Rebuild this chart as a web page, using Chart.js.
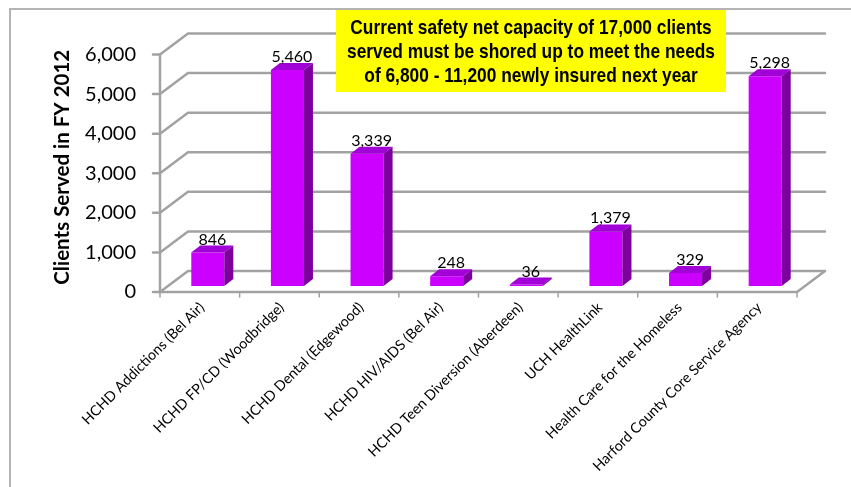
<!DOCTYPE html>
<html>
<head>
<meta charset="utf-8">
<script src="https://cdn.jsdelivr.net/npm/chart.js@4.4.1/dist/chart.umd.min.js"></script>
<style>
  html, body { margin: 0; padding: 0; background: #fff; }
  #wrap { width: 851px; height: 487px; }
</style>
</head>
<body>
<div id="wrap"><canvas id="myChart" width="851" height="487"></canvas></div>
<script>
const categories = [
  "HCHD Addictions (Bel Air)",
  "HCHD FP/CD (Woodbridge)",
  "HCHD Dental (Edgewood)",
  "HCHD HIV/AIDS (Bel Air)",
  "HCHD Teen Diversion (Aberdeen)",
  "UCH HealthLink",
  "Health Care for the Homeless",
  "Harford County Core Service Agency"
];
const clientsServed = [846, 5460, 3339, 248, 36, 1379, 329, 5298];
const yTicks = [0, 1000, 2000, 3000, 4000, 5000, 6000];
const yAxisTitle = "Clients Served in FY 2012";
const calloutLines = [
  "Current safety net capacity of 17,000 clients",
  "served must be shored up to meet the needs",
  "of 6,800 - 11,200 newly insured next year"
];

// 3d look: front floor/axis is shifted left-down, back wall right-up
const FRONT = { dx: -8, dy: 6 };
const BACK = { dx: 20, dy: -15 };
const BAR_DEPTH = { dx: 9, dy: -7 };

const fmt = v => v.toLocaleString("en-US");

const depthPlugin = {
  id: "depth3d",
  beforeDatasetsDraw(chart) {
    const ctx = chart.ctx;
    const area = chart.chartArea;
    const y = chart.scales.y;
    ctx.save();

    // outer frame
    ctx.strokeStyle = "#b4b4b4";
    ctx.lineWidth = 2;
    ctx.beginPath();
    ctx.moveTo(10, 487);
    ctx.lineTo(10, 9);
    ctx.lineTo(851, 9);
    ctx.stroke();

    ctx.strokeStyle = "#a2a2a2";
    ctx.lineWidth = 2.5;
    ctx.lineCap = "round";
    yTicks.forEach(v => {
      const py = y.getPixelForValue(v);
      ctx.beginPath();
      // back wall gridline
      ctx.moveTo(area.right + BACK.dx, py + BACK.dy);
      ctx.lineTo(area.left + BACK.dx, py + BACK.dy);
      // side wall diagonal
      ctx.lineTo(area.left + FRONT.dx, py + FRONT.dy);
      // tick mark
      ctx.lineTo(area.left + FRONT.dx - 7, py + FRONT.dy);
      ctx.stroke();
    });

    const y0 = y.getPixelForValue(0);
    const yTop = y.getPixelForValue(yTicks[yTicks.length - 1]);
    ctx.beginPath();
    // front vertical axis
    ctx.moveTo(area.left + FRONT.dx, yTop + FRONT.dy);
    ctx.lineTo(area.left + FRONT.dx, y0 + FRONT.dy);
    // front floor edge
    ctx.lineTo(area.right + FRONT.dx, y0 + FRONT.dy);
    // right floor edge
    ctx.lineTo(area.right + BACK.dx, y0 + BACK.dy);
    ctx.stroke();

    // category tick marks on the front floor edge
    const step = (area.right - area.left) / categories.length;
    ctx.lineWidth = 1.5;
    for (let i = 0; i <= categories.length; i++) {
      const px = area.left + i * step + FRONT.dx;
      ctx.beginPath();
      ctx.moveTo(px, y0 + FRONT.dy);
      ctx.lineTo(px, y0 + FRONT.dy + 5);
      ctx.stroke();
    }
    ctx.restore();
  },
  afterDatasetsDraw(chart) {
    const ctx = chart.ctx;
    const meta = chart.getDatasetMeta(0);
    ctx.save();
    meta.data.forEach((bar, i) => {
      const half = bar.width / 2;
      const l = bar.x - half, r = bar.x + half;
      const t = bar.y, b = bar.base;
      // top face
      ctx.fillStyle = "#a100d6";
      ctx.beginPath();
      ctx.moveTo(l, t);
      ctx.lineTo(r, t);
      ctx.lineTo(r + BAR_DEPTH.dx, t + BAR_DEPTH.dy);
      ctx.lineTo(l + BAR_DEPTH.dx, t + BAR_DEPTH.dy);
      ctx.closePath();
      ctx.fill();
      // side face
      ctx.fillStyle = "#7d009e";
      ctx.beginPath();
      ctx.moveTo(r, t);
      ctx.lineTo(r + BAR_DEPTH.dx, t + BAR_DEPTH.dy);
      ctx.lineTo(r + BAR_DEPTH.dx, b + BAR_DEPTH.dy);
      ctx.lineTo(r, b);
      ctx.closePath();
      ctx.fill();
      // value label
      ctx.fillStyle = "#000";
      ctx.font = "16px Lato";
      ctx.textAlign = "center";
      ctx.textBaseline = "alphabetic";
      ctx.fillText(fmt(clientsServed[i]), bar.x + BAR_DEPTH.dx / 2, t - 8);
    });
    ctx.restore();
  },
  afterDraw(chart) {
    const ctx = chart.ctx;
    ctx.save();
    ctx.fillStyle = "#ffff00";
    ctx.fillRect(336, 10, 390, 82);
    ctx.fillStyle = "#000";
    ctx.font = "bold 21px 'Liberation Sans Narrow', 'Liberation Sans', Arial";
    ctx.textAlign = "center";
    ctx.textBaseline = "middle";
    const sx = 368 / ctx.measureText(calloutLines[1]).width;
    const lineY = [28, 52, 76];
    calloutLines.forEach((line, i) => {
      ctx.save();
      ctx.translate(531, lineY[i]);
      ctx.scale(sx, 1);
      ctx.fillText(line, 0, 0);
      ctx.restore();
    });
    ctx.restore();
  }
};

const ctx = document.getElementById("myChart").getContext("2d");
const myChart = new Chart(ctx, {
  type: "bar",
  data: {
    labels: categories,
    datasets: [{
      data: clientsServed,
      backgroundColor: "#cc00ff",
      borderWidth: 0,
      categoryPercentage: 1,
      barPercentage: 0.415
    }]
  },
  options: {
    responsive: false,
    animation: false,
    devicePixelRatio: 1,
    layout: { padding: { left: 10, right: 46, top: 48.5, bottom: 0 } },
    plugins: {
      legend: { display: false },
      tooltip: { enabled: false }
    },
    scales: {
      x: {
        grid: { display: false, drawTicks: false },
        border: { display: false },
        ticks: {
          autoSkip: false,
          maxRotation: 45,
          minRotation: 45,
          padding: 13,
          labelOffset: -6,
          color: "#000",
          font: { family: "Lato", size: 14.3 }
        },
        afterFit: scale => { scale.height = 201; }
      },
      y: {
        min: 0,
        max: 6000,
        grid: { display: false, drawTicks: false },
        border: { display: false },
        afterBuildTicks: scale => { scale.ticks = yTicks.map(v => ({ value: v })); },
        ticks: {
          padding: 32,
          labelOffset: 6,
          color: "#000",
          font: { family: "Lato", size: 20 },
          callback: v => fmt(v)
        },
        title: {
          display: true,
          text: yAxisTitle,
          color: "#000",
          font: { family: "Lato", size: 20.5, weight: "bold" },
          padding: { top: 40, bottom: 0 }
        },
        afterFit: scale => { scale.width = 158; }
      }
    }
  },
  plugins: [depthPlugin]
});
</script>
</body>
</html>
